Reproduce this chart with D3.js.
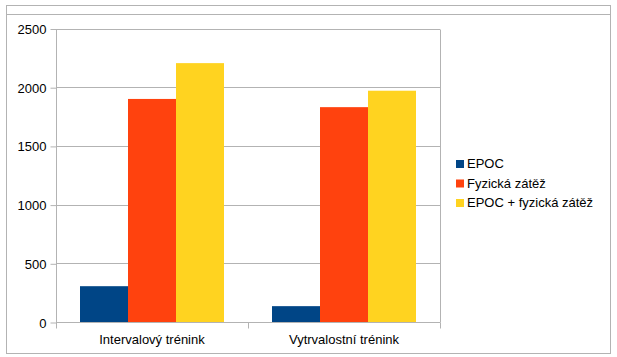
<!DOCTYPE html>
<html><head><meta charset="utf-8">
<script src="https://cdn.jsdelivr.net/npm/d3@7"></script>
<style>body{margin:0;background:#fff}svg{display:block}text{font-family:"Liberation Sans",Arial,sans-serif;fill:#000}</style>
</head><body>
<script>
const categories = ["Intervalový trénink", "Vytrvalostní trénink"];
const seriesNames = ["EPOC", "Fyzická zátěž", "EPOC + fyzická zátěž"];
const epoc = [305, 135];
const fyzicka = [1900, 1830];
const soucet = [2205, 1970];
const yTicks = [0, 500, 1000, 1500, 2000, 2500];
const colors = ["#004586", "#ff420e", "#ffd320"];

(function () {
const seriesValues = [epoc, fyzicka, soucet];
const W = 617, H = 357;
const svg = d3.select("body").append("svg").attr("width", W).attr("height", H);

// outer frame
svg.append("rect").attr("x", 6.5).attr("y", 5.5).attr("width", 604).attr("height", 348)
  .attr("fill", "none").attr("stroke", "#b3b3b3");
svg.append("line").attr("x1", 6.5).attr("x2", 610.5).attr("y1", 14.5).attr("y2", 14.5).attr("stroke", "#b3b3b3");

const pL = 56, pR = 440, pT = 28.5, pB = 322;
const x0 = d3.scaleBand().domain(categories).range([pL, pR]).padding(0);
const x1 = d3.scaleBand().domain(seriesNames).range([24, x0.bandwidth() - 24]).padding(0);
const y = d3.scaleLinear().domain([0, 2500]).range([pB, pT]);

// gridlines
svg.append("g").selectAll("line").data(yTicks).join("line")
  .attr("x1", pL).attr("x2", pR)
  .attr("y1", d => Math.round(y(d)) + 0.5).attr("y2", d => Math.round(y(d)) + 0.5)
  .attr("stroke", "#b3b3b3");
svg.append("line").attr("x1", pR + 0.5).attr("x2", pR + 0.5).attr("y1", Math.round(y(2500)) + 0.5).attr("y2", pB + 0.5).attr("stroke", "#b3b3b3");

// bars
const g = svg.append("g");
categories.forEach((c, ci) => {
  seriesNames.forEach((s, si) => {
    const v = seriesValues[si][ci];
    g.append("rect")
      .attr("x", x0(c) + x1(s)).attr("width", x1.bandwidth())
      .attr("y", y(v)).attr("height", y(0) - y(v))
      .attr("fill", colors[si]);
  });
});

// y axis
const yAxis = d3.axisLeft(y).tickValues(yTicks).tickSize(6).tickPadding(4).tickFormat(d3.format("d"));
const ya = svg.append("g").attr("transform", `translate(${pL + 0.5},0.5)`).call(yAxis);
ya.select(".domain").attr("stroke", "#b3b3b3").attr("d", `M0,${pT}V${pB + 5}`);
ya.selectAll(".tick line").attr("stroke", "#b3b3b3");
ya.selectAll(".tick text").style("font-size", "13px").attr("font-family", null).attr("dy", "0.35em").attr("x", -10);

// x axis
const xAxis = d3.axisBottom(x0).tickSize(0).tickPadding(0);
const xa = svg.append("g").attr("transform", `translate(0,${pB + 0.5})`).call(xAxis);
xa.select(".domain").attr("stroke", "#b3b3b3").attr("d", `M${pL},0H${pR}`);
xa.selectAll(".tick text").style("font-size", "13px").attr("font-family", null).attr("y", 21).attr("dy", 0);
const bounds = [pL, pL + x0.bandwidth(), pR];
xa.append("g").selectAll("line").data(bounds).join("line")
  .attr("x1", d => d + 0.5).attr("x2", d => d + 0.5).attr("y1", 0).attr("y2", 6).attr("stroke", "#b3b3b3");

// legend
const lg = svg.append("g").attr("transform", "translate(456,0)");
seriesNames.forEach((s, i) => {
  const by = 168 + i * 19.5;
  lg.append("rect").attr("x", 0).attr("y", by - 8).attr("width", 8).attr("height", 8).attr("fill", colors[i]);
  lg.append("text").attr("x", 11).attr("y", by).style("font-size", "13px").text(s);
});
})();
</script>
</body></html>
